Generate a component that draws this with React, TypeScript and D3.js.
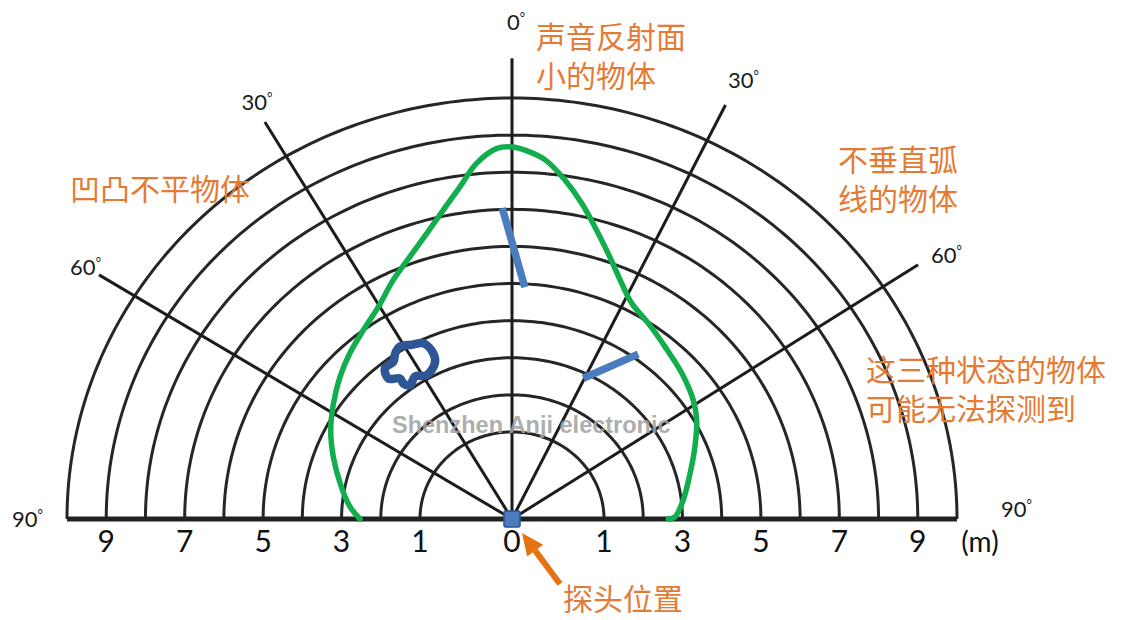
import React from 'react';
import * as d3 from 'd3';

// rings every metre, labelled on the floor line
const ringMeters = [1, 2, 3, 4, 5, 6, 7, 8, 9, 10];
const axisTicks = [-9, -7, -5, -3, -1, 0, 1, 3, 5, 7, 9];
const axisUnit = '(m)';

// spokes as drawn (deg, 0 = straight ahead, + = right) and their labels
const spokeAngles = [-58, -30.5, 0, 26, 56.5];
const spokeNames = ['60', '30', '0', '30', '60'];
const sideNames = ['90', '90'];
const spokeReach = 11.07;

// detection boundary: angle (deg) and range (m)
const beamAngle = [
  -90, -85.4, -77.6, -69.8, -62.6, -55.6, -48.8, -42.8, -36.7, -30.8, -25.2, -20.2,
  -15.8, -11.9, -8.4, -5.4, -2.2, 0, 1.9, 5.0, 8.4, 11.8, 15.0, 18.9, 23.8, 27.7,
  33.4, 40.0, 47.8, 55.2, 60.4, 67.3, 74.8, 83.3, 89.2, 90,
];
const beamRange = [
  2.53, 2.8, 3.14, 3.51, 3.86, 4.17, 4.48, 4.74, 5.0, 5.31, 5.77, 6.19,
  6.65, 7.16, 7.71, 8.28, 8.65, 8.68, 8.6, 8.37, 7.89, 7.35, 6.81, 6.22, 5.59, 5.22,
  4.97, 4.72, 4.5, 4.28, 4.07, 3.71, 3.36, 3.05, 2.81, 2.64,
];

// example targets
const smallFaceAngle = [-1.7, 3.0];
const smallFaceRange = [7.04, 4.91];
const slantAngle = [25.6, 35.9];
const slantRange = [2.86, 4.14];
const roughAngle = [-31.6, -28.5, -25.5, -24.2, -25.1, -29.3, -32.8, -35.8, -37.2, -37.0, -39.8, -38.6, -35.5, -33.7];
const roughRange = [4.11, 4.0, 3.9, 3.55, 3.29, 3.1, 3.22, 3.1, 3.24, 3.4, 3.58, 3.85, 3.86, 4.02];

const W = 1124;
const H = 620;
const cx = 512;
const cy = 519;
const ky = 0.946; // the drawing is a little squashed vertically

const ORANGE = '#e47b35';
// Lato first keeps the line box compact; the Chinese glyphs come from Noto CJK
const CJK = 'Lato, "Noto Sans CJK SC", sans-serif';
const NUM = 'Lato, "Open Sans", sans-serif';

const r = d3.scaleLinear().domain([0, 1, 10]).range([0, 92, 445]);
const rad = (deg: number) => (deg * Math.PI) / 180;
const px = (a: number, m: number) => cx + r(m) * Math.sin(rad(a));
const py = (a: number, m: number) => cy - r(m) * Math.cos(rad(a)) * ky;

const polar = (angles: number[], ranges: number[], curve: d3.CurveFactory = d3.curveLinear) =>
  d3
    .line<number>()
    .x((i) => px(angles[i], ranges[i]))
    .y((i) => py(angles[i], ranges[i]))
    .curve(curve)(d3.range(angles.length)) as string;

// label nudges relative to the spoke ends
const spokeNudge: [number, number, string][] = [
  [2, 0, 'end'],
  [-8, -12, 'middle'],
  [4, -28, 'middle'],
  [18, -17, 'middle'],
  [13, -2, 'start'],
];

const Deg: React.FC<{ x: number; y: number; v: string; anchor: string }> = ({ x, y, v, anchor }) => (
  <text x={x} y={y} textAnchor={anchor as any} fontFamily={NUM} fontSize={22} fill="#1a1a1a">
    {v}
    <tspan fontSize={13} dy={-8}>°</tspan>
  </text>
);

const CnText: React.FC<{ x: number; y: number; lines: string[] }> = ({ x, y, lines }) => (
  <g fontFamily={CJK} fontSize={30} fill={ORANGE}>
    {lines.map((l, i) => (
      <text key={i} x={x} y={y + i * 39}>
        {l}
      </text>
    ))}
  </g>
);

export default function App() {
  const ringAngles = d3.range(-90, 90.5, 1);
  const ringPath = (m: number) =>
    d3
      .line<number>()
      .x((a) => px(a, m))
      .y((a) => py(a, m))(ringAngles) as string;

  // arrow pointing at the probe
  const tip: [number, number] = [cx + 10, cy + 14];
  const tail: [number, number] = [cx + 48, cy + 65];
  const len = Math.hypot(tail[0] - tip[0], tail[1] - tip[1]);
  const ux = (tail[0] - tip[0]) / len;
  const uy = (tail[1] - tip[1]) / len;
  const headL = 22;
  const headW = 10;
  const bx = tip[0] + ux * headL;
  const by = tip[1] + uy * headL;
  const head = `M${tip[0]},${tip[1]}L${bx - uy * headW},${by + ux * headW}L${bx + uy * headW},${by - ux * headW}Z`;

  return (
    <svg
      width={W}
      height={H}
      style={{ position: 'absolute', left: 0, top: 0, background: '#fff' }}
    >
      <g fill="none" stroke="#262626" strokeWidth={3}>
        {ringMeters.map((m) => (
          <path key={m} d={ringPath(m)} />
        ))}
        {spokeAngles.map((a, i) => (
          <line key={i} x1={cx} y1={cy} x2={px(a, spokeReach)} y2={py(a, spokeReach)} stroke="#1c1c1c" />
        ))}
        <line x1={px(-90, 10)} y1={cy} x2={px(90, 10)} y2={cy} stroke="#222" strokeWidth={5} />
      </g>

      <path d={polar(beamAngle, beamRange, d3.curveCatmullRom)} fill="none" stroke="#12ad4c" strokeWidth={5.5} strokeLinecap="round" />

      <path d={polar(smallFaceAngle, smallFaceRange)} stroke="#4a7dc0" strokeWidth={7.5} />
      <path d={polar(slantAngle, slantRange)} stroke="#4a7dc0" strokeWidth={7.5} />
      <path
        d={polar(roughAngle, roughRange, d3.curveCatmullRomClosed)}
        fill="none"
        stroke="#2e5594"
        strokeWidth={8.5}
        strokeLinejoin="round"
      />

      <rect x={cx - 8} y={cy - 8} width={16} height={16} rx={2} fill="#4a7dc0" stroke="#2f528f" strokeWidth={1.5} />

      <text x={392} y={433} fontFamily='"Liberation Sans", Arial, sans-serif' fontWeight="bold" fontSize={23.5} fill="#a3a3a3" fillOpacity={0.9}>
        Shenzhen Anji electronic
      </text>

      {axisTicks.map((t, i) => (
        <text key={i} x={cx + Math.sign(t) * r(Math.abs(t))} y={552} textAnchor="middle" fontFamily={NUM} fontSize={30} fill="#111">
          {Math.abs(t)}
        </text>
      ))}
      <text x={cx + r(10) + 23} y={552} textAnchor="middle" fontFamily={NUM} fontSize={28} fill="#111">
        {axisUnit}
      </text>

      {spokeAngles.map((a, i) => (
        <Deg
          key={i}
          x={px(a, spokeReach) + spokeNudge[i][0]}
          y={py(a, spokeReach) + spokeNudge[i][1]}
          v={spokeNames[i]}
          anchor={spokeNudge[i][2]}
        />
      ))}
      <Deg x={px(-90, 10) - 24} y={cy + 8} v={sideNames[0]} anchor="end" />
      <Deg x={px(90, 10) + 44} y={cy - 2} v={sideNames[1]} anchor="start" />

      <CnText x={536} y={48} lines={['声音反射面', '小的物体']} />
      <CnText x={838} y={171} lines={['不垂直弧', '线的物体']} />
      <CnText x={70} y={200} lines={['凹凸不平物体']} />
      <CnText x={866} y={381} lines={['这三种状态的物体', '可能无法探测到']} />
      <CnText x={563} y={610} lines={['探头位置']} />

      <line x1={tail[0]} y1={tail[1]} x2={bx} y2={by} stroke="#e5720f" strokeWidth={6} />
      <path d={head} fill="#e5720f" />
    </svg>
  );
}
